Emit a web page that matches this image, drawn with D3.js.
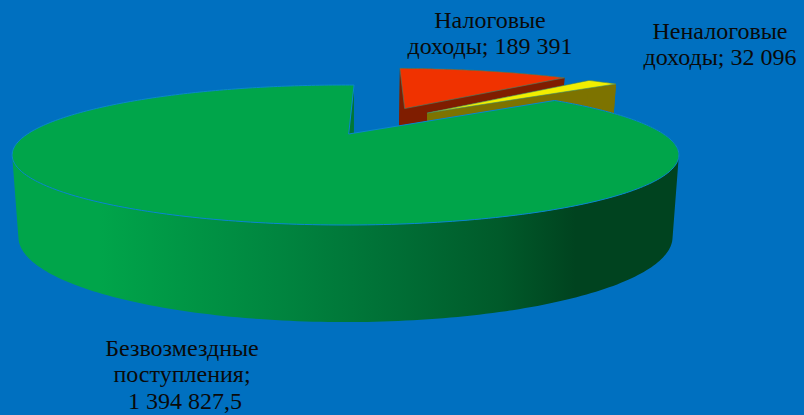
<!DOCTYPE html>
<html>
<head>
<meta charset="utf-8">
<script src="https://cdn.jsdelivr.net/npm/d3@7.9.0/dist/d3.min.js"></script>
<style>
  html, body { margin: 0; padding: 0; background: #0070c0; overflow: hidden; }
  text { font-family: "Liberation Serif", serif; font-size: 24px; fill: #0a0a0a; text-anchor: middle; }
</style>
</head>
<body>
<svg id="chart" width="804" height="415"></svg>
<script>
const categories = ['Налоговые доходы', 'Неналоговые доходы', 'Безвозмездные поступления'];
const values = [189391, 32096, 1394827.5];
const labelLines = [
  ['Налоговые', 'доходы; 189 391'],
  ['Неналоговые', 'доходы; 32 096'],
  ['Безвозмездные', 'поступления;', '\u00a01 394 827,5'],
];

const topColors = ['#f03200', '#f2ee00', '#00a54a'];
const wallColors = ['#7f1d00', '#7d7300', '#00a54a'];
const sideColors = ['#2e5a50', '#7d7300', '#0a8a58'];
const labelPos = [[490, 28], [720, 39], [182, 356]];

// how far each slice is pulled out (unit disc), in which direction, and its radius
const explode = [
  { dist: 0.5, dir: 25, scale: 1.04, apexU: 0 },
  { dist: 0.463, dir: 38, scale: 1.06, apexU: 0 },
  { dist: 0, dir: 0, scale: 1, apexU: 0.01 },
];

const rad = (d) => (d * Math.PI) / 180;
const firstAngle = rad(2);

// perspective of the disc: top face and bottom face
const K = 0.3;
const topPlane = { x: 345.5, y: 134, a: 318, b: 63.7 };
const botPlane = { x: 345.5, y: 211.5, a: 312, b: 77.4 };

function project(plane, u, v) {
  const w = 1 + K * v;
  return [plane.x + (plane.a * u) / w, plane.y - (plane.b * v) / w];
}

const pie = d3
  .pie()
  .sort(null)
  .startAngle(firstAngle)
  .endAngle(firstAngle + 2 * Math.PI);
const slices = pie(values);

function rimPoint(i, angle) {
  const e = explode[i];
  return [
    e.dist * Math.sin(rad(e.dir)) + e.scale * Math.sin(angle),
    e.dist * Math.cos(rad(e.dir)) + e.scale * Math.cos(angle),
  ];
}

function apexPoint(i) {
  const e = explode[i];
  return [e.apexU + e.dist * Math.sin(rad(e.dir)), e.dist * Math.cos(rad(e.dir))];
}

function rimAngles(s) {
  const n = Math.max(4, Math.ceil((s.endAngle - s.startAngle) / rad(1)));
  return d3.range(n + 1).map((k) => s.startAngle + ((s.endAngle - s.startAngle) * k) / n);
}

function wedgePoints(i, s) {
  const rim = rimAngles(s).map((a) => rimPoint(i, a));
  return [apexPoint(i), ...rim].map(([u, v]) => project(topPlane, u, v));
}

// wall swept between two plane outlines, one path of same-wound quads
function sweep(points) {
  const quads = [];
  for (let k = 0; k < points.length - 1; k++) {
    const [u0, v0] = points[k];
    const [u1, v1] = points[k + 1];
    const q = [
      project(topPlane, u0, v0),
      project(topPlane, u1, v1),
      project(botPlane, u1, v1),
      project(botPlane, u0, v0),
    ];
    if (d3.polygonArea(q) < 0) q.reverse();
    quads.push('M' + q.map((p) => p.join(',')).join('L') + 'Z');
  }
  return quads.join('');
}

const svg = d3.select('#chart');

const grad = svg
  .append('defs')
  .append('linearGradient')
  .attr('id', 'wallShade')
  .attr('gradientUnits', 'userSpaceOnUse')
  .attr('x1', 12)
  .attr('x2', 679)
  .attr('y1', 0)
  .attr('y2', 0);
[
  [0, '#00a54a'],
  [0.13, '#00a54a'],
  [0.207, '#009c47'],
  [0.4, '#00853f'],
  [0.58, '#006e35'],
  [0.73, '#005a2a'],
  [0.845, '#00431f'],
  [1, '#00431f'],
].forEach(([o, c]) => grad.append('stop').attr('offset', o).attr('stop-color', c));

const line = d3.line();
const topEdge = '#0a86d0';

// back to front: tax, non-tax, then the big slice over both
[0, 1, 2].forEach((i) => {
  const s = slices[i];
  const g = svg.append('g').attr('class', 'slice').attr('data-name', categories[i]);

  // walls under the two radial edges
  const apex = apexPoint(i);
  g.append('path')
    .attr('d', sweep([rimPoint(i, s.startAngle), apex]))
    .attr('fill', sideColors[i]);
  g.append('path')
    .attr('d', sweep([apex, rimPoint(i, s.endAngle)]))
    .attr('fill', wallColors[i]);

  // outer wall
  const rim = rimAngles(s).map((a) => rimPoint(i, a));
  g.append('path')
    .attr('d', sweep(rim))
    .attr('fill', i === 2 ? 'url(#wallShade)' : wallColors[i]);

  // top face
  g.append('path')
    .attr('d', line(wedgePoints(i, s)) + 'Z')
    .attr('fill', topColors[i])
    .attr('stroke', i === 2 ? topEdge : '#3a8a70')
    .attr('stroke-width', i === 2 ? 1 : 0.6)
    .attr('stroke-linejoin', 'round');
});

labelLines.forEach((lines, i) => {
  const [x, y] = labelPos[i];
  const t = svg.append('text').attr('x', x).attr('y', y);
  lines.forEach((l, k) => {
    t.append('tspan').attr('x', x).attr('y', y + k * 26.3).text(l);
  });
});
</script>
</body>
</html>
